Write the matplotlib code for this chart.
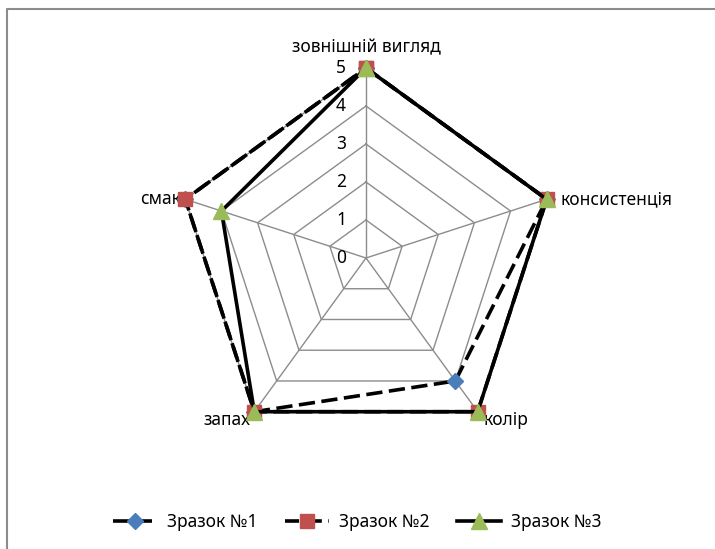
import numpy as np
import matplotlib
matplotlib.use('Agg')
import matplotlib.pyplot as plt
from matplotlib.lines import Line2D

plt.rcParams['font.family'] = ['Noto Sans', 'DejaVu Sans']

categories = ['зовнішній вигляд', 'консистенція', 'колір', 'запах', 'смак']
sample1 = [5, 5, 4, 5, 5]
sample2 = [5, 5, 5, 5, 5]
sample3 = [5, 5, 5, 5, 4]
series_names = ['Зразок №1', 'Зразок №2', 'Зразок №3']
levels = [0, 1, 2, 3, 4, 5]

W, H = 715, 549
fig = plt.figure(figsize=(W / 100, H / 100), dpi=100)

# chart area frame (only top and left edges are visible in the crop)
fig.add_artist(Line2D([7 / W, 7 / W, 1.05], [-0.05, 1 - 9 / H, 1 - 9 / H],
                      transform=fig.transFigure, color='#8c8c8c', lw=1.5))

cx, cy, R = 366, 258, 190
ax = fig.add_axes([(cx - R) / W, (H - cy - R) / H, 2 * R / W, 2 * R / H],
                  projection='polar')
ax.set_theta_offset(np.pi / 2)
ax.set_theta_direction(-1)
ax.set_ylim(0, 5)
ax.grid(False)
ax.spines['polar'].set_visible(False)
ax.set_xticks([])
ax.set_yticks([])
ax.patch.set_alpha(0)

n = len(categories)
angles = np.arange(n) * 2 * np.pi / n
closed = np.append(angles, angles[0])

# pentagon grid and spokes
for lv in levels[1:]:
    ax.plot(closed, [lv] * (n + 1), color='#8c8c8c', lw=1, zorder=1)
for a in angles:
    ax.plot([a, a], [0, 5], color='#8c8c8c', lw=1, zorder=1)

# radial labels
for lv in levels:
    ax.annotate(str(lv), xy=(0, lv), xytext=(-25, 0), textcoords='offset pixels',
                ha='center', va='center', fontsize=12.5)

# category labels
label_pos = [
    dict(xytext=(0, 12), ha='center', va='bottom'),
    dict(xytext=(14, 0), ha='left', va='center'),
    dict(xytext=(6, -8), ha='left', va='center'),
    dict(xytext=(-4, -8), ha='right', va='center'),
    dict(xytext=(-4, 0), ha='right', va='center'),
]
for a, name, kw in zip(angles, categories, label_pos):
    ax.annotate(name, xy=(a, 5), textcoords='offset pixels', fontsize=12.5,
                annotation_clip=False, **kw)

def closed_vals(v):
    return list(v) + [v[0]]

ax.plot(closed, closed_vals(sample1), color='black', lw=2.6, ls=(0, (4.5, 1.8)),
        marker='D', ms=8, mfc='#4a7ebb', mec='#4a7ebb', label=series_names[0],
        zorder=3, clip_on=False)
ax.plot(closed, closed_vals(sample2), color='black', lw=2.6, ls=(0.6, (4.5, 1.8)),
        marker='s', ms=10, mfc='#c0504d', mec='#c0504d', label=series_names[1],
        zorder=4, clip_on=False)
ax.plot(closed, closed_vals(sample3), color='black', lw=2.6, ls='-',
        marker='^', ms=11, mfc='#9bbb59', mec='#9bbb59', label=series_names[2],
        zorder=5, clip_on=False)

fig.legend(loc='center', bbox_to_anchor=(0.5, 1 - 522 / H), ncol=3,
           frameon=False, fontsize=12.5, handlelength=2.5, handletextpad=0.6,
           columnspacing=1.6)

fig.savefig('out.png', dpi=100)
